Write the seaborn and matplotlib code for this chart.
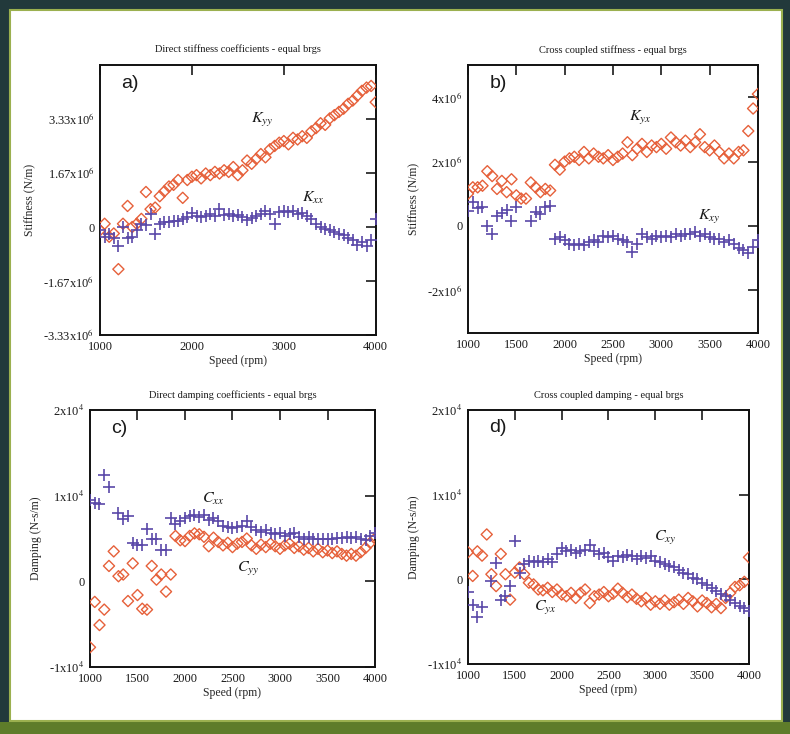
import matplotlib
matplotlib.use("Agg")
import matplotlib.pyplot as plt
from matplotlib.patches import Rectangle
import seaborn as sns
import numpy as np

nan = np.nan

# shaft speed (rpm)
speed = [1000, 1050, 1100, 1150, 1200, 1250, 1300, 1350, 1400, 1450,
         1500, 1550, 1600, 1650, 1700, 1750, 1800, 1850, 1900, 1950,
         2000, 2050, 2100, 2150, 2200, 2250, 2300, 2350, 2400, 2450,
         2500, 2550, 2600, 2650, 2700, 2750, 2800, 2850, 2900, 2950,
         3000, 3050, 3100, 3150, 3200, 3250, 3300, 3350, 3400, 3450,
         3500, 3550, 3600, 3650, 3700, 3750, 3800, 3850, 3900, 3950,
         4000]

# stiffness in 1e6 N/m
k_yy = [-0.1, 0.1, -0.3, -0.2, -1.3, 0.1, 0.65, 0.0, 0.1, 0.25,
        1.08, 0.55, 0.6, 0.95, 1.1, 1.25, 1.3, 1.45, 0.9, 1.45,
        1.55, 1.6, 1.5, 1.65, 1.6, 1.7, 1.65, 1.75, 1.7, 1.85,
        1.6, 1.75, 2.05, 1.95, 2.1, 2.25, 2.15, 2.4, 2.5, 2.6,
        2.65, 2.55, 2.75, 2.7, 2.8, 2.75, 2.95, 3.05, 3.2, 3.15,
        3.35, 3.45, 3.55, 3.65, 3.8, 3.9, 4.05, 4.2, 4.3, 4.35,
        3.85]
k_xx = [-0.1, -0.3, -0.2, -0.35, -0.6, 0.0, -0.35, -0.3, -0.1, 0.1,
        0.05, 0.4, -0.2, 0.1, 0.15, 0.15, 0.2, 0.2, 0.25, 0.3,
        0.42, 0.35, 0.3, 0.35, 0.4, 0.35, 0.55, 0.38, 0.4, 0.35,
        0.38, 0.3, 0.22, 0.28, 0.35, 0.4, 0.48, 0.4, 0.1, 0.45,
        0.5, 0.45, 0.5, 0.4, 0.42, 0.35, 0.25, 0.1, 0.0, -0.05,
        -0.1, -0.15, -0.2, -0.25, -0.35, -0.4, -0.55, -0.45, -0.6, -0.4,
        0.25]
k_yx = [1.0, 1.2, 1.2, 1.25, 1.7, 1.55, 1.15, 1.4, 1.05, 1.45,
        0.95, 0.85, 0.85, 1.35, 1.2, 1.05, 1.15, 1.1, 1.9, 1.75,
        2.0, 2.1, 2.15, 2.05, 2.3, 2.1, 2.25, 2.15, 2.1, 2.2,
        2.05, 2.15, 2.25, 2.6, 2.2, 2.4, 2.55, 2.3, 2.5, 2.45,
        2.55, 2.4, 2.75, 2.6, 2.5, 2.65, 2.45, 2.6, 2.85, 2.45,
        2.35, 2.5, 2.3, 2.1, 2.25, 2.1, 2.3, 2.35, 2.95, 3.65,
        4.1]
k_xy = [0.45, 0.75, 0.55, 0.6, 0.0, -0.25, 0.3, 0.4, 0.5, 0.15,
        0.6, nan, nan, 0.15, 0.43, 0.37, 0.6, 0.62, -0.4, -0.35,
        -0.45, -0.55, -0.6, -0.55, -0.6, -0.5, -0.45, -0.5, -0.3, -0.35,
        -0.3, -0.4, -0.45, -0.5, -0.8, -0.55, -0.25, -0.35, -0.4, -0.3,
        -0.35, -0.3, -0.35, -0.25, -0.3, -0.25, -0.25, -0.2, -0.3, -0.25,
        -0.35, -0.4, -0.4, -0.5, -0.45, -0.55, -0.7, -0.75, -0.85, -0.65,
        -0.45]

# damping in 1e3 N-s/m
c_xx = [9.5, 9.2, 9.0, 12.4, 11.0, nan, 8.0, 7.3, 7.6, 4.5,
        4.3, 4.3, 6.1, 5.0, 5.0, 3.7, 3.7, 7.4, 6.7, 7.0,
        7.4, 7.6, 7.8, 7.5, 7.8, 7.2, 7.4, 7.0, 6.5, 6.4,
        6.2, 6.3, 6.5, 7.0, 6.3, 6.0, 5.8, 6.0, 5.7, 5.5,
        5.6, 5.3, 5.5, 5.6, 5.2, 5.0, 5.2, 5.0, 5.0, 4.9,
        4.9, 5.0, 5.1, 5.1, 5.2, 5.1, 5.2, 5.0, 4.8, 5.3,
        5.6]
c_yy = [-7.7, -2.4, -5.1, -3.3, 1.8, 3.5, 0.6, 0.8, -2.3, 2.1,
        -1.6, -3.2, -3.3, 1.8, 0.2, 0.8, -1.2, 0.8, 5.3, 4.8,
        4.7, 5.3, 5.6, 5.5, 5.2, 4.1, 5.1, 4.6, 4.2, 4.5,
        4.0, 4.4, 4.6, 5.0, 4.2, 3.8, 4.3, 4.0, 4.4, 4.1,
        3.8, 4.2, 4.4, 3.9, 4.1, 3.7, 3.9, 3.5, 3.8, 3.4,
        3.6, 3.3, 3.5, 3.2, 3.0, 3.2, 3.0, 3.4, 3.9, 4.5,
        5.0]
c_xy = [-1.5, -3.0, -4.5, -3.3, nan, -0.2, 1.9, -2.4, -2.0, -0.8,
        4.5, 0.8, 1.8, 2.2, 2.1, 2.2, 2.0, 2.4, 2.0, 3.0,
        3.7, 3.4, 3.5, 3.1, 3.3, 3.5, 4.1, 3.3, 3.0, 3.1,
        2.6, 2.2, 2.8, 2.6, 2.9, 2.7, 2.4, 2.8, 2.5, 2.7,
        2.2, 2.1, 1.8, 1.6, 1.4, 1.1, 0.8, 0.6, 0.2, 0.0,
        -0.4, -0.7, -1.0, -1.4, -1.7, -2.0, -2.4, -2.8, -3.2, -3.4,
        -3.7]
c_yx = [3.2, 0.4, 3.3, 2.8, 5.3, 0.6, -0.8, 3.0, 0.6, -2.4,
        0.8, 1.4, 0.6, -0.4, -0.6, -1.2, -1.3, -1.0, -1.5, -1.2,
        -1.8, -2.0, -1.6, -2.2, -1.6, -1.2, -2.8, -2.0, -1.8, -1.5,
        -2.0, -1.7, -1.1, -1.6, -2.1, -1.8, -2.3, -2.6, -2.2, -3.0,
        -2.6, -2.9, -2.5, -3.0, -2.7, -2.4, -2.9, -2.2, -2.6, -3.2,
        -2.5, -2.8, -3.3, -2.9, -3.4, -2.2, -1.6, -0.9, -0.7, -0.3,
        2.6]

RED = "#e6603a"
BLUE = "#5a48a8"

sns.set_style("white")
plt.rcParams["font.family"] = ["Liberation Serif", "DejaVu Serif"]
plt.rcParams["mathtext.fontset"] = "stix"
plt.rcParams["text.color"] = "#1a1a1a"

fig = plt.figure(figsize=(7.9, 7.34), dpi=100)
fig.patch.set_facecolor("#22393b")
# scanned slide look: white page, olive strip at the bottom
fig.add_artist(Rectangle((0, 0), 1, 12 / 734, transform=fig.transFigure,
                         facecolor="#5e7c2a", edgecolor="none", zorder=0))
fig.add_artist(Rectangle((10 / 790, 13 / 734), 772 / 790, 711 / 734,
                         transform=fig.transFigure, facecolor="white",
                         edgecolor="#9bb04f", lw=1.5, zorder=0))


def draw_panel(rect, title, ylabel, xticks, yticks, yticklabels, ylim, letter,
               diamonds, pluses, notes):
    ax = fig.add_axes(rect)
    ax.set_facecolor("none")
    sns.scatterplot(x=speed, y=diamonds, ax=ax, marker="D", s=32,
                    facecolor="none", edgecolor=RED, color=RED,
                    linewidth=1.0, zorder=3)
    sns.scatterplot(x=speed, y=pluses, ax=ax, marker="+", s=65,
                    color=BLUE, edgecolor=BLUE, linewidth=1.2, zorder=4)
    ax.set_xlim(1000, 4000)
    ax.set_ylim(*ylim)
    ax.set_xticks(xticks)
    ax.set_xticklabels([str(t) for t in xticks])
    ax.set_yticks(yticks)
    ax.set_yticklabels(yticklabels)
    ax.tick_params(direction="in", top=True, right=True, length=7,
                   width=1.2, labelsize=9, pad=4, colors="#1a1a1a")
    for sp in ax.spines.values():
        sp.set_linewidth(1.4)
        sp.set_color("#111111")
    ax.set_title(title, fontsize=7.5, pad=9)
    ax.set_xlabel("Speed (rpm)", fontsize=8.5, labelpad=2)
    ax.set_ylabel(ylabel, fontsize=8.5, labelpad=5)
    ax.text(0.075, 0.93, letter, transform=ax.transAxes, fontsize=14,
            family="Liberation Sans", va="center", ha="left")
    for xv, yv, txt in notes:
        ax.text(xv, yv, txt, fontsize=11.5, ha="center", va="center")
    return ax


e6 = "x10$^{6}$"
e4 = "x10$^{4}$"

draw_panel([0.1266, 0.5436, 0.349, 0.368],
           "Direct stiffness coefficients - equal brgs", "Stiffness (N/m)",
           [1000, 2000, 3000, 4000],
           [-3.33, -1.67, 0, 1.67, 3.33],
           ["-3.33" + e6, "-1.67" + e6, "0", "1.67" + e6, "3.33" + e6],
           (-3.33, 5.0), "a)", k_yy, k_xx,
           [(2760, 3.3, r"$K_{yy}$"), (3320, 0.9, r"$K_{xx}$")])

draw_panel([0.5924, 0.5463, 0.367, 0.365],
           "Cross coupled stiffness - equal brgs", "Stiffness (N/m)",
           [1000, 1500, 2000, 2500, 3000, 3500, 4000],
           [-2, 0, 2, 4],
           ["-2" + e6, "0", "2" + e6, "4" + e6],
           (-3.33, 5.0), "b)", k_yx, k_xy,
           [(2780, 3.35, r"$K_{yx}$"), (3500, 0.28, r"$K_{xy}$")])

draw_panel([0.1139, 0.0913, 0.3608, 0.350],
           "Direct damping coefficients - equal brgs", "Damping (N-s/m)",
           [1000, 1500, 2000, 2500, 3000, 3500, 4000],
           [-10, 0, 10, 20],
           ["-1" + e4, "0", "1" + e4, "2" + e4],
           (-10, 20), "c)", c_yy, c_xx,
           [(2300, 9.6, r"$C_{xx}$"), (2660, 1.4, r"$C_{yy}$")])

draw_panel([0.5924, 0.0954, 0.3557, 0.346],
           "Cross coupled damping - equal brgs", "Damping (N-s/m)",
           [1000, 1500, 2000, 2500, 3000, 3500, 4000],
           [-10, 0, 10, 20],
           ["-1" + e4, "0", "1" + e4, "2" + e4],
           (-10, 20), "d)", c_yx, c_xy,
           [(3100, 4.9, r"$C_{xy}$"), (1830, -3.4, r"$C_{yx}$")])

fig.savefig("out.png", dpi=100, facecolor=fig.get_facecolor())
